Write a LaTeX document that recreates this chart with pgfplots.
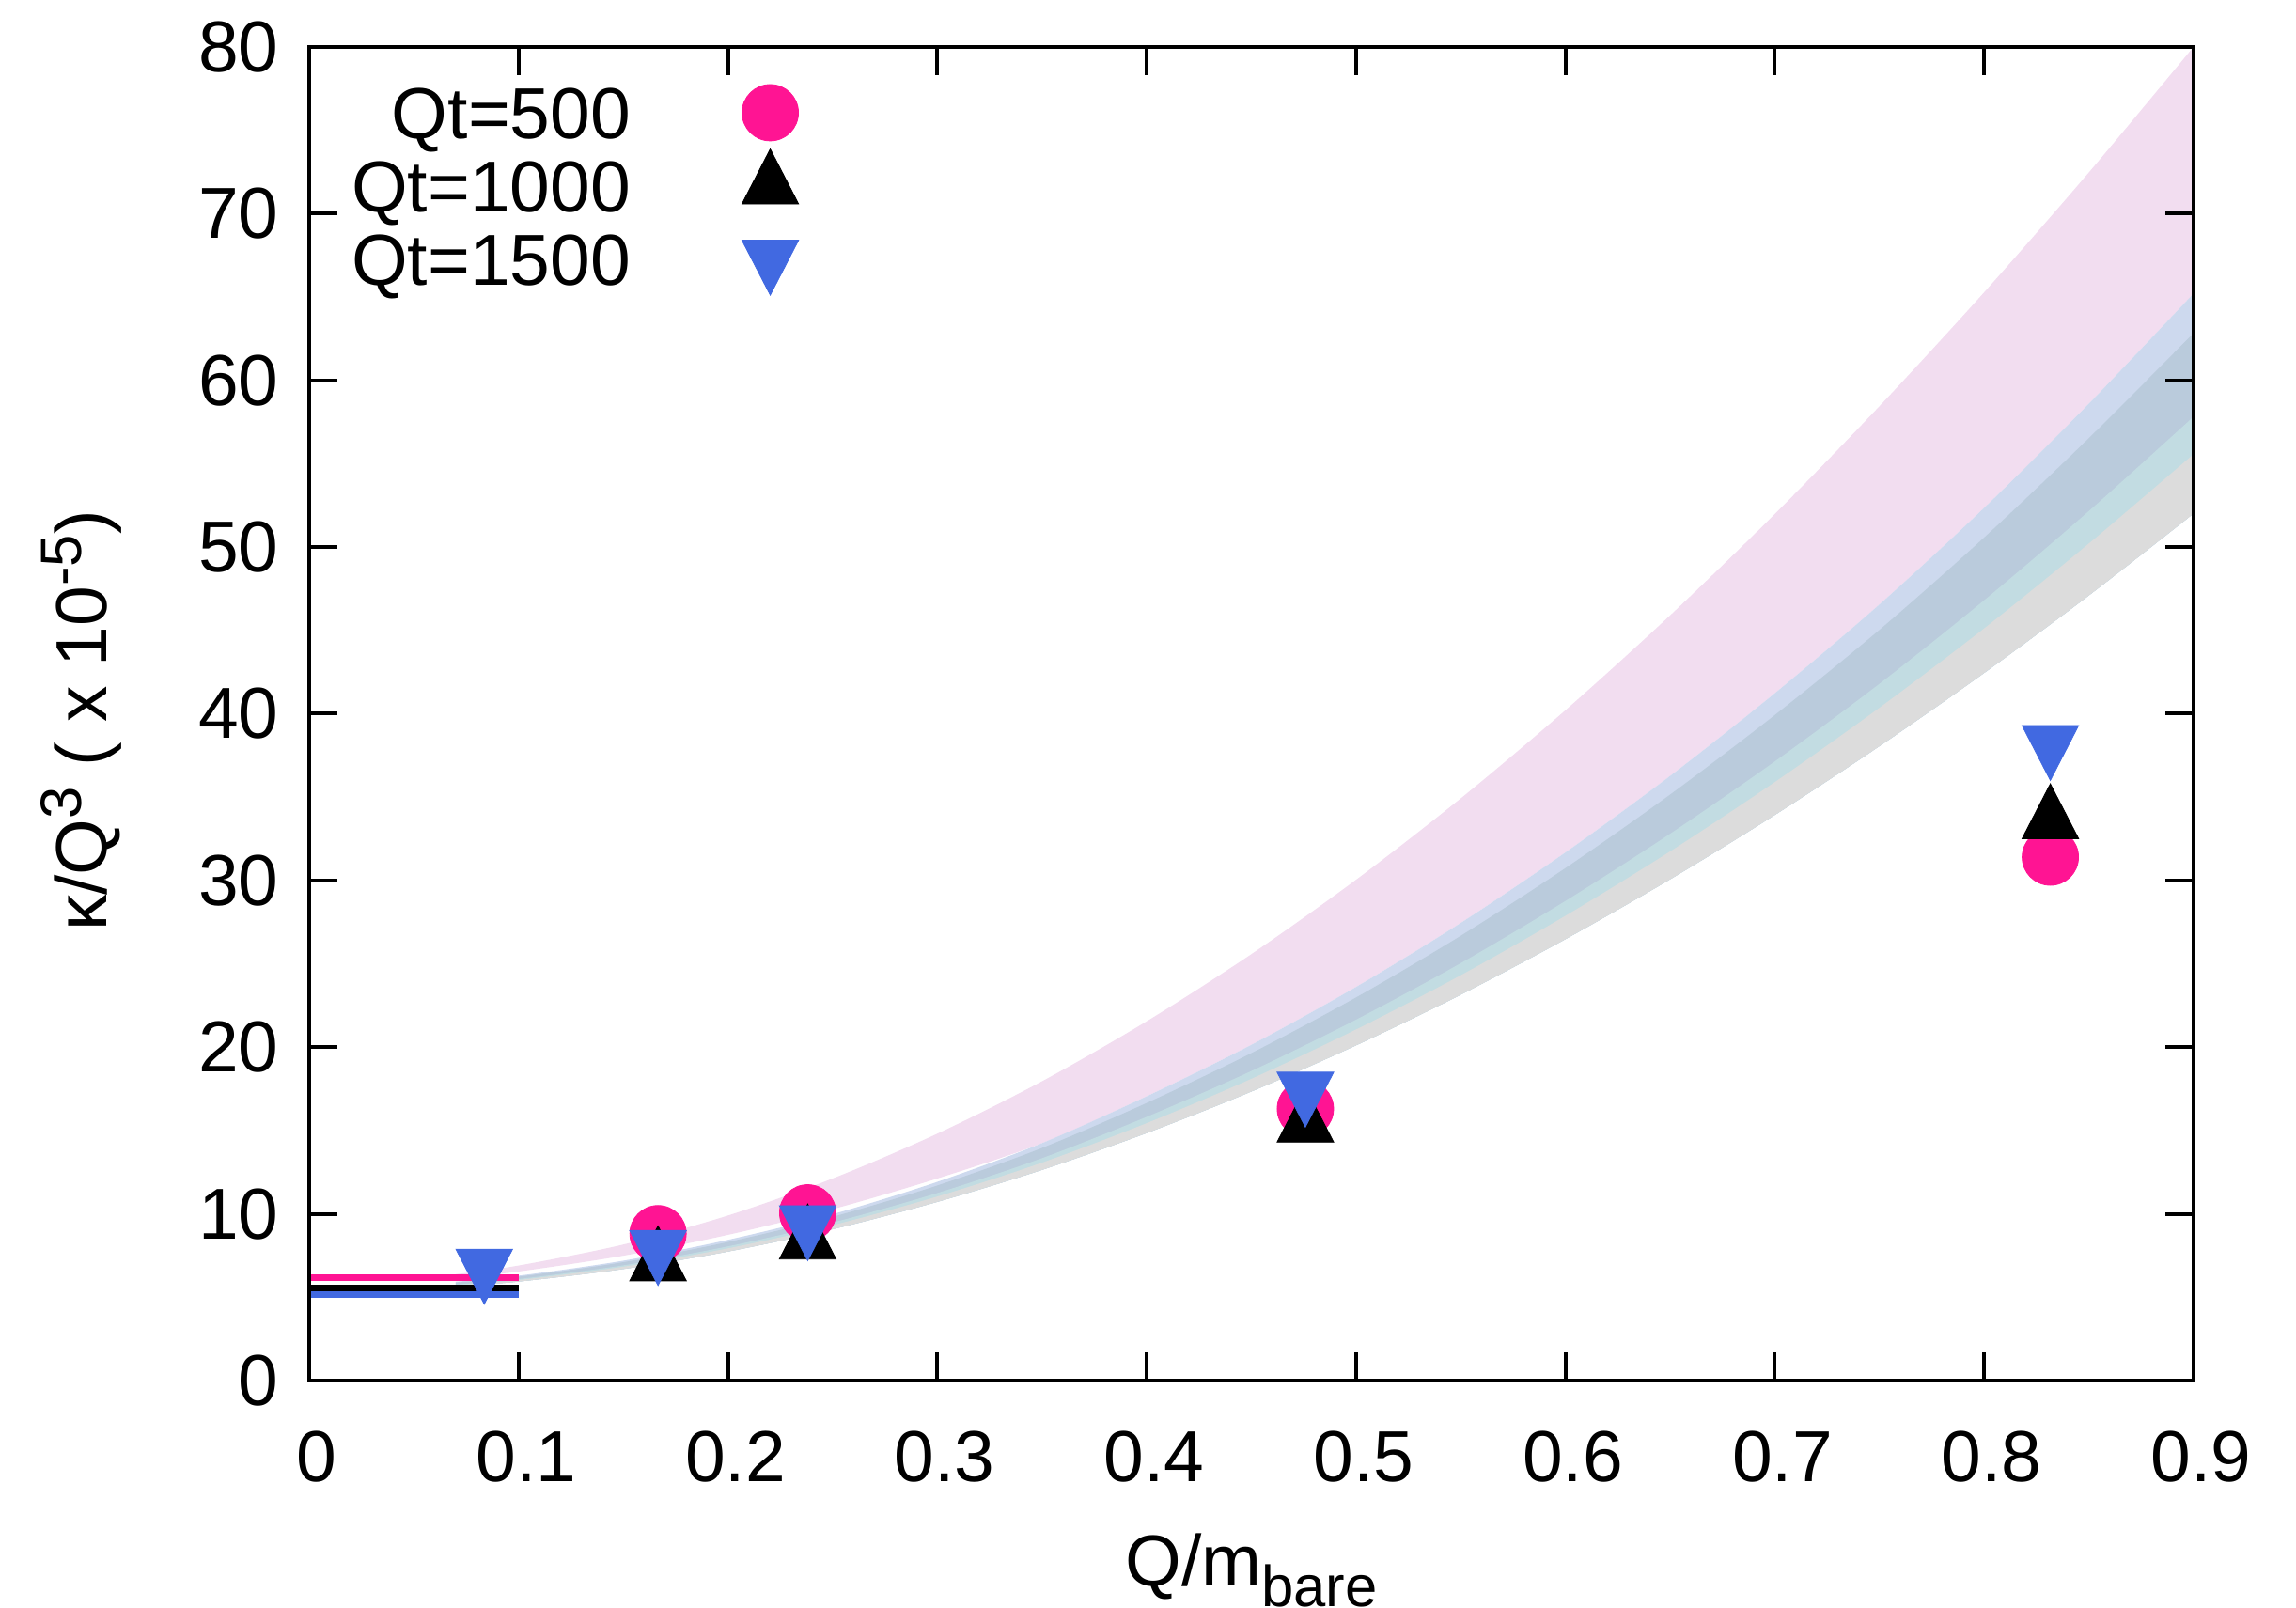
\documentclass[border=0pt]{standalone}
\usepackage{fontspec}
\setmainfont{Liberation Sans}
\usepackage{pgfplots}
\pgfplotsset{compat=1.18}
\usepackage{pgfplotstable}
\usepgfplotslibrary{fillbetween}
\definecolor{bpink}{RGB}{242,221,240}
\definecolor{blav}{RGB}{205,217,238}
\definecolor{bsteel}{RGB}{186,203,220}
\definecolor{bcyan}{RGB}{194,220,226}
\definecolor{bgrey}{RGB}{220,220,220}
\definecolor{mpink}{RGB}{255,20,147}
\definecolor{mblue}{RGB}{65,105,225}
\newcommand{\fs}{\fontsize{19.2}{23}\selectfont}
\newcommand{\fss}{\fontsize{15.4}{16}\selectfont}

\pgfplotstableread{
x PT PB LT ST CT GT GB
0.07 6.38 6.13 5.93 5.88 5.76 5.71 5.63
0.10 6.90 6.54 6.29 6.23 6.09 6.03 5.94
0.15 8.16 7.49 7.19 7.10 6.91 6.83 6.69
0.20 9.90 8.74 8.44 8.31 8.05 7.93 7.74
0.25 12.12 10.28 9.98 9.82 9.48 9.32 9.08
0.30 14.81 12.12 11.92 11.70 11.25 11.04 10.72
0.35 17.95 14.24 14.24 13.95 13.34 13.07 12.64
0.40 21.55 17.05 17.05 16.65 15.82 15.44 14.85
0.45 25.58 20.14 20.14 19.64 18.57 18.10 17.34
0.50 30.04 23.61 23.61 22.98 21.65 21.06 20.11
0.55 34.92 27.45 27.45 26.68 25.04 24.31 23.15
0.60 40.21 31.68 31.68 30.74 28.77 27.88 26.48
0.65 45.90 36.27 36.27 35.15 32.80 31.74 30.07
0.70 51.98 41.23 41.23 39.92 37.14 35.90 33.93
0.75 58.45 46.56 46.56 45.03 41.80 40.36 38.06
0.80 65.28 52.35 52.35 50.57 46.81 45.12 42.45
0.85 72.47 58.60 58.60 56.53 52.16 50.21 47.10
0.90 80.00 65.21 65.21 62.83 57.82 55.57 52.01
}\bands

\begin{document}
\begin{tikzpicture}
\begin{axis}[
  at={(0,0)}, anchor=south west,
  scale only axis, width=501.25pt, height=354.75pt,
  xmin=0, xmax=0.9, ymin=0, ymax=80,
  xtick={0,0.1,0.2,0.3,0.4,0.5,0.6,0.7,0.8,0.9},
  xticklabels={0,0.1,0.2,0.3,0.4,0.5,0.6,0.7,0.8,0.9},
  ytick={0,10,20,30,40,50,60,70,80},
  tick align=inside, major tick length=7.5pt,
  axis line style={line width=1pt},
  every tick/.style={black, line width=1pt},
  tick label style={font=\fs},
  /pgf/number format/assume math mode=true,
  xticklabel style={anchor=base, yshift=-27pt, xshift=2pt},
  yticklabel style={anchor=east, xshift=-4.6pt},
  xlabel={Q/m\raisebox{-5.4pt}{\fss bare}},
  xlabel style={font=\fs, at={(axis description cs:0.5,0)}, anchor=base, yshift=-54.75pt},
  ylabel={κ/Q\raisebox{6.7pt}{\fss 3} ( x 10\raisebox{6.7pt}{\fss -5})},
  ylabel style={font=\fs, at={(axis description cs:-0.1209,0.4946)}, anchor=center},
  axis on top,
  legend plot pos=right,
  legend cell align=right,
  legend style={draw=none, fill=none, inner sep=0pt, outer sep=0pt,
    at={(axis description cs:0.2597,0.9789)}, anchor=north east,
    font=\fs, column sep=29.6pt, row sep=-0.6pt,
    nodes={inner sep=0pt, text height=17pt, text depth=3pt}},
]
\addplot[name path=PT, draw=none, smooth, forget plot] table[x=x,y=PT]{\bands};
\addplot[name path=PB, draw=none, smooth, forget plot] table[x=x,y=PB]{\bands};
\addplot[name path=LT, draw=none, smooth, forget plot] table[x=x,y=LT]{\bands};
\addplot[name path=ST, draw=none, smooth, forget plot] table[x=x,y=ST]{\bands};
\addplot[name path=CT, draw=none, smooth, forget plot] table[x=x,y=CT]{\bands};
\addplot[name path=GT, draw=none, smooth, forget plot] table[x=x,y=GT]{\bands};
\addplot[name path=GB, draw=none, smooth, forget plot] table[x=x,y=GB]{\bands};
\addplot[bpink, draw=none, forget plot] fill between[of=PT and PB];
\addplot[blav, draw=none, forget plot] fill between[of=LT and GB];
\addplot[bsteel, draw=none, forget plot] fill between[of=ST and GB];
\addplot[bcyan, draw=none, forget plot] fill between[of=CT and GB];
\addplot[bgrey, draw=none, forget plot] fill between[of=GT and GB];

\addplot[mpink, line width=1.7pt, forget plot] coordinates {(0,6.18) (0.1,6.18)};
\addplot[black, line width=1.7pt, forget plot] coordinates {(0,5.54) (0.1,5.54)};
\addplot[mblue, line width=1.7pt, forget plot] coordinates {(0,5.15) (0.1,5.15)};

\addplot[only marks, mark=*, mark size=7.5pt, mark options={draw=mpink, fill=mpink, line width=0.2pt}]
  coordinates {(0.1666,8.81) (0.2381,10.06) (0.4758,16.3) (0.8316,31.4)};
\addlegendentry{Qt=500}
\addplot[only marks, mark=triangle*, mark size=8.7pt, mark options={draw=black, fill=black, line width=0.2pt, yscale=1.12}]
  coordinates {(0.1666,7.08) (0.2381,8.39) (0.4758,15.4) (0.8316,33.6)};
\addlegendentry{Qt=1000}
\addplot[only marks, mark=triangle*, mark size=8.7pt, mark options={draw=mblue, fill=mblue, line width=0.2pt, yscale=1.12, rotate=180}]
  coordinates {(0.0836,6.78) (0.1666,7.90) (0.2381,9.39) (0.4758,17.4) (0.8316,38.2)};
\addlegendentry{Qt=1500}
\end{axis}
\pgfresetboundingbox
\path (-82.25pt,-60.5pt) rectangle (528.5pt,367.25pt);
\end{tikzpicture}
\end{document}
